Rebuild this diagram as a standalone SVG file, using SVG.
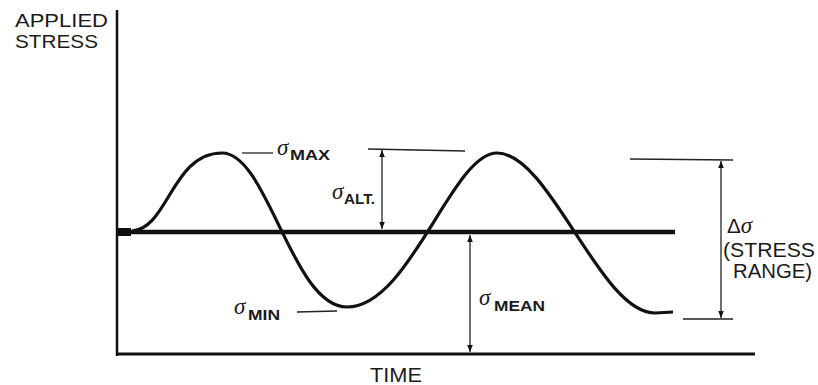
<svg xmlns="http://www.w3.org/2000/svg" width="818" height="385" viewBox="0 0 818 385">
<defs>
<marker id="ah" viewBox="0 0 10 10" refX="10" refY="5" markerWidth="7" markerHeight="9" orient="auto-start-reverse" markerUnits="userSpaceOnUse">
<path d="M0,1 L10,5 L0,9 Z" fill="#111"/>
</marker>
<style>
.lbl{font-family:"Liberation Sans",Arial,sans-serif;fill:#1a1a1a;}
.big{font-size:20.5px;}
.ttl{font-size:18.5px;}
.sig{font-family:"Liberation Serif","DejaVu Serif",serif;font-style:italic;font-size:23px;fill:#1a1a1a;}
.sub{font-family:"Liberation Sans",Arial,sans-serif;font-size:15px;font-weight:bold;fill:#1a1a1a;}
.thin{stroke:#222;stroke-width:1.3;fill:none;}
.dim{stroke:#222;stroke-width:1.3;fill:none;}
</style>
</defs>
<rect width="818" height="385" fill="#fff"/>
<g id="axes">
<line x1="117" y1="10" x2="117" y2="356" stroke="#111" stroke-width="2.5"/>
<line x1="116" y1="354" x2="755" y2="354" stroke="#111" stroke-width="3"/>
<text class="lbl ttl" x="15" y="27" textLength="93" lengthAdjust="spacingAndGlyphs">APPLIED</text>
<text class="lbl ttl" x="15" y="48" textLength="83" lengthAdjust="spacingAndGlyphs">STRESS</text>
<text class="lbl big" x="370" y="382" textLength="52" lengthAdjust="spacingAndGlyphs">TIME</text>
</g>
<g id="mean-line">
<line x1="117" y1="232" x2="675" y2="232" stroke="#111" stroke-width="4.5"/>
<rect x="117" y="228" width="14" height="8" fill="#111"/>
</g>
<g id="stress-curve">
<path d="M132,231 C168,229 172,153 222,153 C268,153 292,307 347,307 C410,307 452,153 497,153 C550,153 600,313 655,313 L673,312" fill="none" stroke="#111" stroke-width="3.2"/>
</g>
<g id="connectors">
<line class="thin" x1="242" y1="153" x2="273" y2="153"/>
<line class="thin" x1="368" y1="149" x2="465" y2="151"/>
<line class="thin" x1="297" y1="312" x2="337" y2="311"/>
<line class="thin" x1="630" y1="159" x2="733" y2="160"/>
<line class="thin" x1="683" y1="319" x2="733" y2="319"/>
<line class="dim" x1="382" y1="150" x2="382" y2="229" marker-start="url(#ah)" marker-end="url(#ah)"/>
<line class="dim" x1="470" y1="235" x2="470" y2="352" marker-start="url(#ah)" marker-end="url(#ah)"/>
<line class="dim" x1="721" y1="161" x2="721" y2="318" marker-start="url(#ah)" marker-end="url(#ah)"/>
</g>
<g id="label-max">
<text class="sig" x="277" y="155">σ</text>
<text class="sub" x="290" y="160" textLength="40" lengthAdjust="spacingAndGlyphs">MAX</text>
</g>
<g id="label-alt">
<text class="sig" x="332" y="199">σ</text>
<text class="sub" x="344" y="204" textLength="31" lengthAdjust="spacingAndGlyphs">ALT.</text>
</g>
<g id="label-min">
<text class="sig" x="234" y="314">σ</text>
<text class="sub" x="248" y="320" textLength="32" lengthAdjust="spacingAndGlyphs">MIN</text>
</g>
<g id="label-mean">
<text class="sig" x="479" y="305">σ</text>
<text class="sub" x="494" y="311" textLength="51" lengthAdjust="spacingAndGlyphs">MEAN</text>
</g>
<g id="label-range">
<text class="lbl big" x="727" y="233">Δ<tspan font-family="Liberation Serif,serif" font-style="italic" font-size="23">σ</tspan></text>
<text class="lbl big" x="723" y="257" textLength="92" lengthAdjust="spacingAndGlyphs">(STRESS</text>
<text class="lbl big" x="733" y="278" textLength="79" lengthAdjust="spacingAndGlyphs">RANGE)</text>
</g>
</svg>
